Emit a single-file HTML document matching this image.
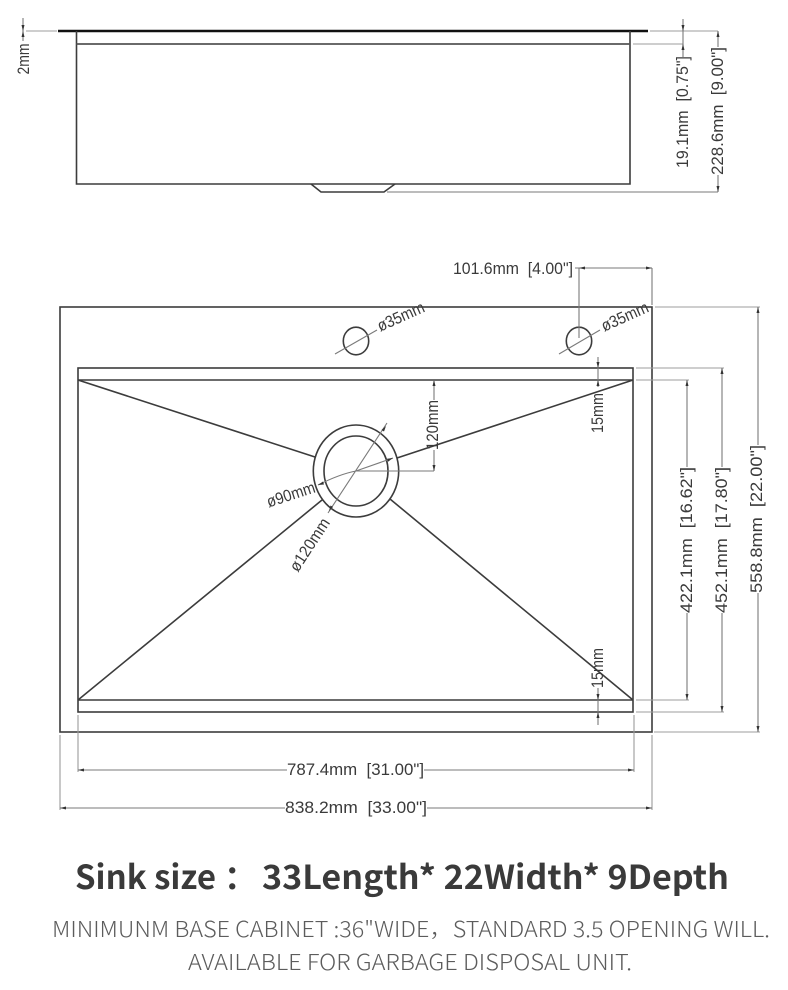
<!DOCTYPE html>
<html><head><meta charset="utf-8">
<style>
html,body{margin:0;padding:0;background:#fff;width:788px;height:990px;overflow:hidden}
svg{display:block}
.m{stroke:#3c3c3c;stroke-width:1.6;fill:none}
.d{stroke:#7a7a7a;stroke-width:1.1;fill:none}
.e{stroke:#9c9c9c;stroke-width:1.1;fill:none}
.a{fill:#333;stroke:none}
.c{font-family:"Liberation Sans",sans-serif;font-size:16.5px;fill:#3a3a3a;text-anchor:middle;dominant-baseline:central}
.h{font-family:"Noto Sans CJK SC","Liberation Sans",sans-serif;font-weight:700;font-size:33px;fill:#3a3a3a}
.s{font-family:"Noto Sans CJK SC","Liberation Sans",sans-serif;font-weight:300;font-size:22px;fill:#5c5c5c}
</style></head>
<body>
<svg width="788" height="990" viewBox="0 0 788 990" xmlns="http://www.w3.org/2000/svg">
<rect width="788" height="990" fill="#fff"/>
<!-- Top elevation -->
<line x1="58" y1="31" x2="648" y2="31" stroke="#111" stroke-width="2.4"/>
<path class="m" d="M76.500 31V184H630V31"/>
<line x1="76.500" y1="44" x2="630" y2="44" stroke="#555" stroke-width="1.8"/>
<path class="m" d="M311 184L321 192H384L395 184" stroke-width="1.3"/>
<path class="e" d="M26 31H57"/>
<path class="d" d="M23 18V41"/>
<path class="a" d="M23 31l-1.500-6h3zM23 31l-1.500 6h3z"/>
<text class="c" transform="translate(24 59) rotate(-90)" textLength="31" lengthAdjust="spacingAndGlyphs">2mm</text>
<path class="e" d="M650 31H718M633 44H683"/>
<path class="d" d="M683 19V57M718 31V47M718 175V192M387 192H718"/>
<path class="a" d="M683 31l-1.500-6h3zM683 44l-1.500 6h3zM718 31l-1.500 6h3zM718 192l-1.500-6h3z"/>
<text class="c" transform="translate(683 112) rotate(-90)" textLength="112" lengthAdjust="spacingAndGlyphs">19.1mm&#160;&#160;[0.75"]</text>
<text class="c" transform="translate(718 111) rotate(-90)" textLength="128" lengthAdjust="spacingAndGlyphs">228.6mm&#160;&#160;[9.00"]</text>

<!-- Plan view -->
<rect class="m" x="60" y="307" width="592" height="425"/>
<rect class="m" x="78" y="368" width="555" height="344"/>
<path class="m" d="M78 380H633M78 700H633"/>
<path class="m" d="M78 380L315 457M633 380L397 458M78 700L322 500M633 700L390 499"/>
<ellipse class="m" cx="356" cy="471" rx="42.7" ry="46"/>
<ellipse class="m" cx="356" cy="471" rx="32" ry="35"/>
<ellipse class="m" cx="356" cy="341" rx="12.7" ry="13.8" stroke-width="1.3"/>
<ellipse class="m" cx="579" cy="341" rx="12.7" ry="13.8" stroke-width="1.3"/>
<path class="d" d="M335 354L377 330M559 354L600 330"/>
<text class="c" transform="translate(401 317) rotate(-24)" textLength="50" lengthAdjust="spacingAndGlyphs">&#248;35mm</text>
<text class="c" transform="translate(625 317) rotate(-24)" textLength="50" lengthAdjust="spacingAndGlyphs">&#248;35mm</text>

<!-- 101.6 -->
<text class="c" x="513" y="269" textLength="120" lengthAdjust="spacingAndGlyphs">101.6mm&#160;&#160;[4.00"]</text>
<path class="d" d="M575 268H652M579 268V338M652 268V305"/>
<path class="a" d="M579 268l6-1.500v3zM652 268l-6-1.500v3z"/>

<!-- drain dims -->
<path class="d" d="M356 471H434M434 380V400M434 450V471"/>
<path class="a" d="M434 380l-1.500 6h3zM434 471l-1.500-6h3z"/>
<text class="c" transform="translate(433 425) rotate(-90)" textLength="50" lengthAdjust="spacingAndGlyphs">120mm</text>
<path class="d" d="M318 485Q340 474 356 471L393 458M387 423L328 513"/>
<path class="a" d="M318 485l5-3.500 1 3zM393 458l-6 .8 1 3zM386 426l-4.500 4 2.500 1.500zM329 511l1.500-5.500 2.500 1.500z"/>
<text class="c" transform="translate(291 495) rotate(-18)" textLength="50" lengthAdjust="spacingAndGlyphs">&#248;90mm</text>
<text class="c" transform="translate(310 545) rotate(-57)" textLength="60" lengthAdjust="spacingAndGlyphs">&#248;120mm</text>

<!-- 15mm -->
<path class="d" d="M598 357V387M598 688V725"/>
<path class="a" d="M598 368l-1.500-6h3zM598 380l-1.500 6h3zM598 700l-1.500-6h3zM598 712l-1.500 6h3z"/>
<text class="c" transform="translate(598 413) rotate(-90)" textLength="40" lengthAdjust="spacingAndGlyphs">15mm</text>
<text class="c" transform="translate(598 668) rotate(-90)" textLength="40" lengthAdjust="spacingAndGlyphs">15mm</text>

<!-- right dims -->
<path class="e" d="M655 307H760M636 368H724M636 380H689M636 700H689M636 712H724M654 732H760"/>
<path class="d" d="M687 380V467M687 613V700M722 368V467M722 613V712M758 307V445M758 593V732"/>
<path class="a" d="M687 380l-1.500 6h3zM687 700l-1.500-6h3zM722 368l-1.500 6h3zM722 712l-1.500-6h3zM758 307l-1.500 6h3zM758 732l-1.500-6h3z"/>
<text class="c" transform="translate(687 540) rotate(-90)" textLength="146" lengthAdjust="spacingAndGlyphs">422.1mm&#160;&#160;[16.62"]</text>
<text class="c" transform="translate(722 540) rotate(-90)" textLength="146" lengthAdjust="spacingAndGlyphs">452.1mm&#160;&#160;[17.80"]</text>
<text class="c" transform="translate(757 519) rotate(-90)" textLength="148" lengthAdjust="spacingAndGlyphs">558.8mm&#160;&#160;[22.00"]</text>

<!-- bottom dims -->
<path class="e" d="M78 715V772M634 715V772M60 735V810M652 735V810"/>
<path class="d" d="M78 770H287M424 770H634M60 808H285M427 808H652"/>
<path class="a" d="M78 770l6-1.500v3zM634 770l-6-1.500v3zM60 808l6-1.500v3zM652 808l-6-1.500v3z"/>
<text class="c" x="355.500" y="770" textLength="137" lengthAdjust="spacingAndGlyphs">787.4mm&#160;&#160;[31.00"]</text>
<text class="c" x="356" y="808" textLength="142" lengthAdjust="spacingAndGlyphs">838.2mm&#160;&#160;[33.00"]</text>

<!-- captions -->
<text class="h" x="75" y="889" textLength="141" lengthAdjust="spacingAndGlyphs">Sink size</text>
<text class="h" x="224" y="889">：</text>
<text class="h" x="262" y="889" textLength="467" lengthAdjust="spacingAndGlyphs">33Length* 22Width* 9Depth</text>
<text class="s" x="52" y="937" textLength="718" lengthAdjust="spacingAndGlyphs">MINIMUNM BASE CABINET :36"WIDE，STANDARD 3.5 OPENING WILL.</text>
<text class="s" x="188" y="970" textLength="444" lengthAdjust="spacingAndGlyphs">AVAILABLE FOR GARBAGE DISPOSAL UNIT.</text>
</svg>
</body></html>
